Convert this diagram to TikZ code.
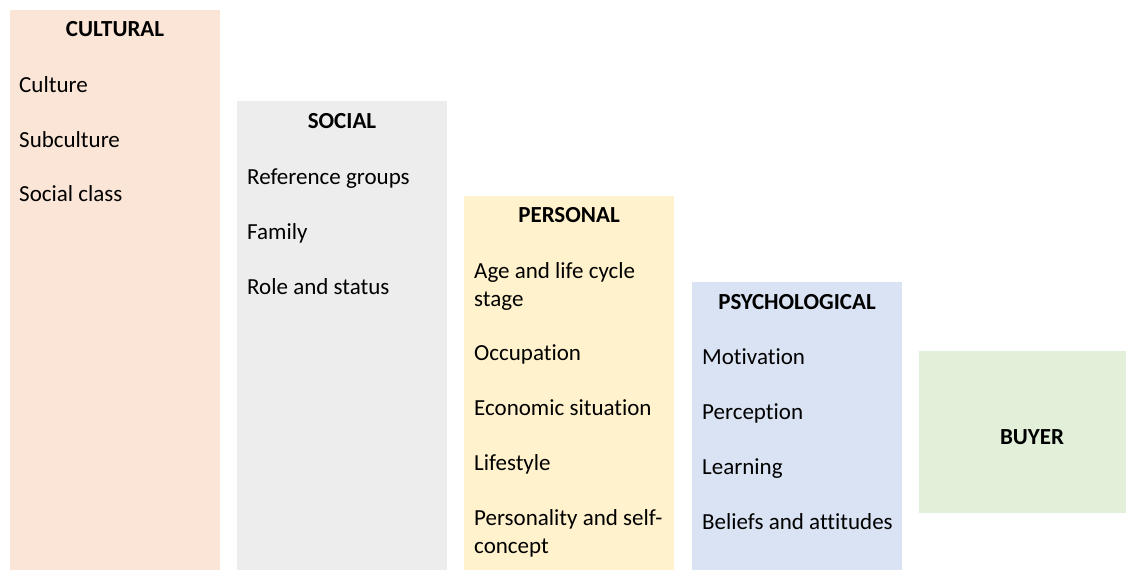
\documentclass[tikz,border=0pt]{standalone}
\usepackage{fontspec}
\setmainfont[RawFeature={-liga}]{Carlito}
\definecolor{cultc}{HTML}{FBE5D6}
\definecolor{socc}{HTML}{EDEDED}
\definecolor{perc}{HTML}{FFF2CC}
\definecolor{psyc}{HTML}{DAE3F3}
\definecolor{buyc}{HTML}{E2F0D9}
\begin{document}
\begin{tikzpicture}[x=1pt,y=-1pt,
  ttl/.style={anchor=base,inner sep=0pt,font=\fontsize{23}{28}\selectfont\bfseries},
  itm/.style={anchor=base west,inner sep=0pt,font=\fontsize{23}{28}\selectfont}]
\useasboundingbox (0,0) rectangle (1126,570);
% panels
\fill[cultc] (10,10) rectangle (220,570);
\fill[socc] (237,101) rectangle (447,570);
\fill[perc] (464,196) rectangle (674,570);
\fill[psyc] (692,282) rectangle (902,570);
\fill[buyc] (919,351) rectangle (1126,513);
% cultural
\node[ttl] (t1) at (115,36) {CULTURAL};
\node[itm] (c1) at (19,92) {Culture};
\node[itm] (c2) at (19,147) {Subculture};
\node[itm] (c3) at (19,201) {Social class};
% social
\node[ttl] (t2) at (342,128) {SOCIAL};
\node[itm] (s1) at (247,184) {Reference groups};
\node[itm] (s2) at (247,239) {Family};
\node[itm] (s3) at (247,294) {Role and status};
% personal
\node[ttl] (t3) at (569,222) {PERSONAL};
\node[itm] (p1) at (474,278) {Age and life cycle};
\node[itm] (p1b) at (474,306) {stage};
\node[itm] (p2) at (474,360) {Occupation};
\node[itm] (p3) at (474,415) {Economic situation};
\node[itm] (p4) at (474,470) {Lifestyle};
\node[itm] (p5) at (474,525) {Personality and self-};
\node[itm] (p5b) at (474,553) {concept};
% psychological
\node[ttl] (t4) at (797,309) {PSYCHOLOGICAL};
\node[itm] (q1) at (702,364) {Motivation};
\node[itm] (q2) at (702,419) {Perception};
\node[itm] (q3) at (702,474) {Learning};
\node[itm] (q4) at (702,529) {Beliefs and attitudes};
% buyer
\node[ttl] (b) at (1032,444) {BUYER};
\end{tikzpicture}
\end{document}
